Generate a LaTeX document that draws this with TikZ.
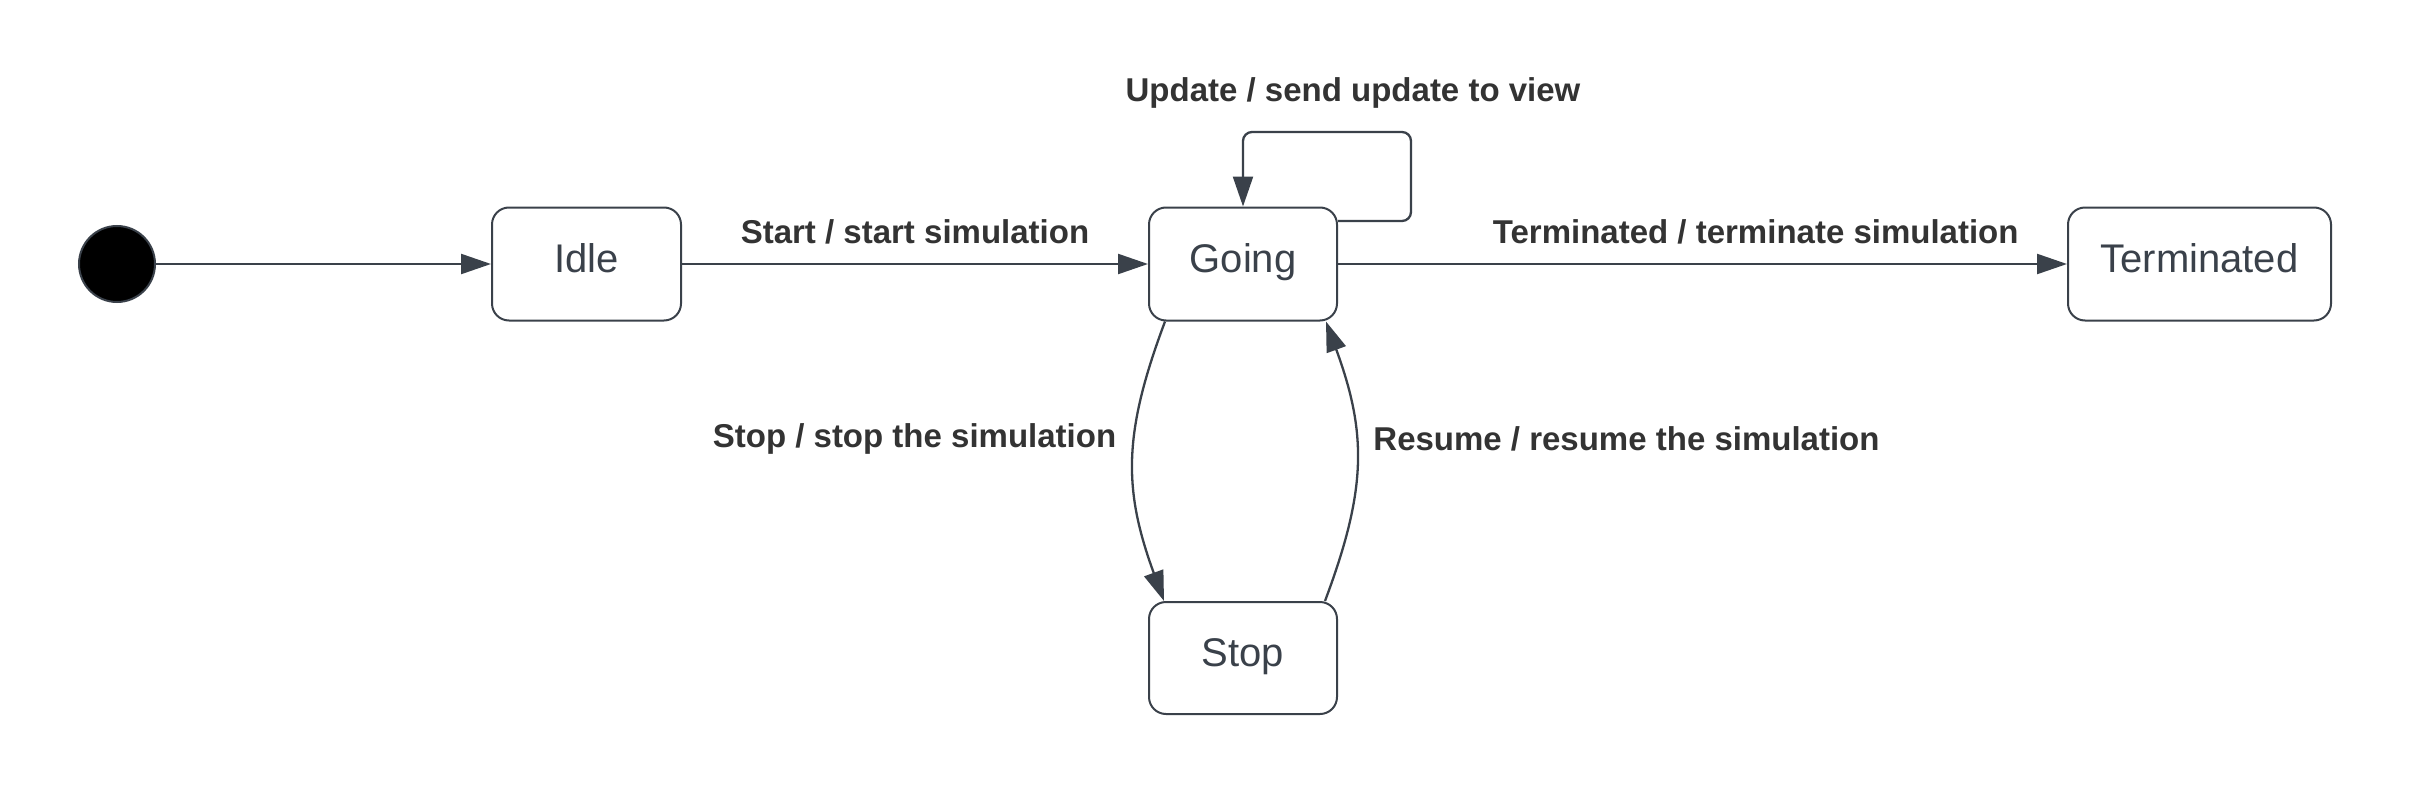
\documentclass[tikz,border=0pt]{standalone}
\usepackage{fontspec}
\setmainfont{Liberation Sans}
\usetikzlibrary{arrows.meta,calc}
\definecolor{linec}{HTML}{3A414A}
\definecolor{labc}{HTML}{333333}
\begin{document}
\begin{tikzpicture}[x=1pt,y=-1pt,
  statebox/.style={draw=linec, line width=2pt, rounded corners=17pt, minimum height=113pt,
    text=linec, font=\fontsize{40}{45}\selectfont, inner sep=0pt, text height=26pt, text depth=10pt},
  conn/.style={draw=linec, line width=2.3pt, -{Triangle[length=30pt,width=20pt]}},
  lbl/.style={text=labc, font=\bfseries\fontsize{33}{38}\selectfont, inner sep=0pt, anchor=base}]
\useasboundingbox (0,0) rectangle (2436,789);
\node[circle, fill=black, draw=linec, line width=2pt, minimum size=76pt, inner sep=0pt] (init) at (117,264) {};
\node[statebox, minimum width=189pt] (idle) at (586.5,264) {Idle};
\node[statebox, minimum width=188pt] (going) at (1243,264) {Going};
\node[statebox, minimum width=263pt] (term) at (2199.5,264) {Terminated};
\node[statebox, minimum width=188pt, minimum height=112pt] (stop) at (1243,658) {Stop};
\coordinate (loopc) at (1411,132);
\draw[conn] (init) -- (idle);
\draw[conn] (idle) -- node[lbl, pos=0.5, yshift=21pt] (startlbl) {Start / start simulation} (going);
\draw[conn] (going) -- node[lbl, pos=0.573, yshift=21pt] (termlbl) {Terminated / terminate simulation} (term);
\draw[conn, rounded corners=9pt] ($(going.east)+(0,-43)$) -| (loopc) -| (going.north);
\draw[conn] ($(going.south)+(-78,0)$) .. controls +(-42,112) and +(-41,-112) .. ($(stop.north)+(-79,0)$);
\draw[conn] ($(stop.north)+(82,0)$) .. controls +(42,-112) and +(41,112) .. ($(going.south)+(83,0)$);
\node[lbl] (updlbl) at (1353,102) {Update / send update to view};
\node[lbl] (stoplbl) at (914.5,447) {Stop / stop the simulation};
\node[lbl] (reslbl) at (1626.5,450) {Resume / resume the simulation};
\end{tikzpicture}
\end{document}
